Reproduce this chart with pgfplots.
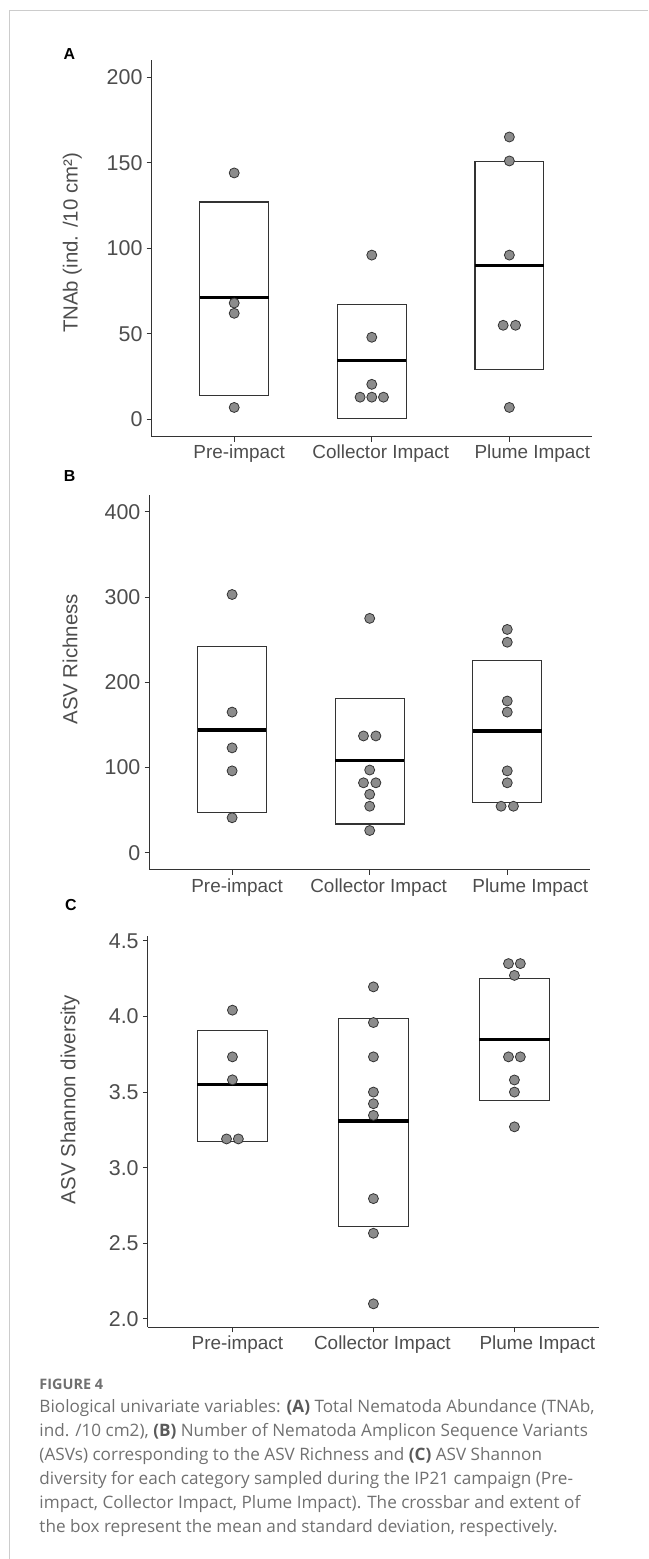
\documentclass[border=0pt]{standalone}
\usepackage{fontspec}
\usepackage{pgfplots}
\usepackage{pgfplotstable}
\pgfplotsset{compat=1.18}
\setmainfont{Liberation Sans}
\newfontfamily\capfont{Open Sans}
\definecolor{axisgray}{HTML}{333333}
\definecolor{textgray}{HTML}{4D4D4D}
\definecolor{dotfill}{HTML}{8C8C8C}
\definecolor{capgray}{HTML}{707070}
\definecolor{capbold}{HTML}{5A5A5A}
\definecolor{framegray}{HTML}{CCCCCC}

\pgfplotstableread{
x y
1 144
1 68
1 62
1 7
2 96
2 48
2 20.5
1.915 13
2 13
2.085 13
3 165
3 151
3 96
2.955 55
3.045 55
3 7
}\dotsA

\pgfplotstableread{
x y
1 303
1 165
1 123
1 96
1 41
2 275
1.955 137
2.045 137
2 97
1.955 82
2.045 82
2 68.5
2 54.5
2 26
3 262
3 247
3 178
3 165
3 96
3 82
2.955 54.5
3.045 54.5
}\dotsB

\pgfplotstableread{
x y
1 4.042
1 3.733
1 3.581
0.958 3.19
1.042 3.19
2 4.196
2 3.96
2 3.733
2 3.5
2 3.423
2 3.346
2 2.795
2 2.566
2 2.099
2.958 4.35
3.042 4.35
3 4.272
2.958 3.733
3.042 3.733
3 3.58
3 3.5
3 3.27
}\dotsC

\pgfplotsset{
  panel/.style={
    scale only axis, anchor=south west,
    xmin=0.4, xmax=3.6,
    axis x line*=bottom, axis y line*=left,
    axis line style={draw=axisgray, line width=1.1bp},
    tick align=outside, major tick length=5bp,
    tick style={draw=axisgray, line width=0.9bp},
    xtick={1,2,3},
    xticklabels={{\hspace*{10bp}Pre-impact},{\hspace*{18bp}Collector Impact},{\hspace*{46bp}Plume Impact}},
    xticklabel style={font=\fontsize{19}{19}\selectfont, text=textgray, anchor=north, inner sep=3.5bp},
    yticklabel style={font=\fontsize{21.5}{21.5}\selectfont, text=textgray, anchor=east, inner sep=4bp},
    /pgf/number format/assume math mode=true,
    clip=false,
  },
  dots/.style={only marks, mark=*, mark size=5bp,
    mark options={fill=dotfill, draw=axisgray, line width=0.8bp}},
  sdbox/.style={draw=axisgray, line width=1.1bp, fill=none, mark=none},
  meanbar/.style={draw=black, line width=3.2bp, mark=none},
}

\begin{document}
\begin{tikzpicture}
\path (0bp,0bp) rectangle (648bp,1559bp);
\draw[framegray, line width=1bp] (648bp,1548bp) -- (9.5bp,1548bp) -- (9.5bp,0bp);

% Panel A
\begin{axis}[panel, at={(151.7bp,1122.3bp)}, width=440.4bp, height=376.7bp,
  ymin=-10, ymax=210, ytick={0,50,100,150,200}]
\addplot[dots] table[x=x,y=y] {\dotsA};
\addplot[sdbox] coordinates {(0.75,13.8) (1.25,13.8) (1.25,127) (0.75,127)} -- cycle;
\addplot[sdbox] coordinates {(1.75,0.8) (2.25,0.8) (2.25,67.4) (1.75,67.4)} -- cycle;
\addplot[sdbox] coordinates {(2.75,29) (3.25,29) (3.25,150.5) (2.75,150.5)} -- cycle;
\addplot[meanbar] coordinates {(0.75,71.1) (1.25,71.1)};
\addplot[meanbar] coordinates {(1.75,34.5) (2.25,34.5)};
\addplot[meanbar] coordinates {(2.75,90) (3.25,90)};
\end{axis}

% Panel B
\begin{axis}[panel, at={(149.6bp,689bp)}, width=440.4bp, height=375bp,
  ymin=-20, ymax=420, ytick={0,100,200,300,400}]
\addplot[dots] table[x=x,y=y] {\dotsB};
\addplot[sdbox] coordinates {(0.75,46.9) (1.25,46.9) (1.25,241.6) (0.75,241.6)} -- cycle;
\addplot[sdbox] coordinates {(1.75,33.7) (2.25,33.7) (2.25,180.7) (1.75,180.7)} -- cycle;
\addplot[sdbox] coordinates {(2.75,58.7) (3.25,58.7) (3.25,225.7) (2.75,225.7)} -- cycle;
\addplot[meanbar] coordinates {(0.75,143.9) (1.25,143.9)};
\addplot[meanbar] coordinates {(1.75,108) (2.25,108)};
\addplot[meanbar] coordinates {(2.75,142.8) (3.25,142.8)};
\end{axis}

% Panel C
\begin{axis}[panel, at={(147.9bp,231.3bp)}, width=451.3bp, height=391bp,
  ymin=1.944, ymax=4.53, ytick={2,2.5,3,3.5,4,4.5},
  yticklabel style={/pgf/number format/.cd, fixed, fixed zerofill, precision=1}]
\addplot[dots] table[x=x,y=y] {\dotsC};
\addplot[sdbox] coordinates {(0.75,3.176) (1.25,3.176) (1.25,3.907) (0.75,3.907)} -- cycle;
\addplot[sdbox] coordinates {(1.75,2.612) (2.25,2.612) (2.25,3.984) (1.75,3.984)} -- cycle;
\addplot[sdbox] coordinates {(2.75,3.447) (3.25,3.447) (3.25,4.251) (2.75,4.251)} -- cycle;
\addplot[meanbar] coordinates {(0.75,3.548) (1.25,3.548)};
\addplot[meanbar] coordinates {(1.75,3.309) (2.25,3.309)};
\addplot[meanbar] coordinates {(2.75,3.848) (3.25,3.848)};
\end{axis}

% axis titles
\node[font=\fontsize{20.5}{20.5}\selectfont, text=textgray, rotate=90] at (72.3bp,1316bp) {TNAb (ind. /10 cm²)};
\node[font=\fontsize{20.5}{20.5}\selectfont, text=textgray, rotate=90] at (70.2bp,899.5bp) {ASV Richness};
\node[font=\fontsize{20.5}{20.5}\selectfont, text=textgray, rotate=90] at (70.2bp,459bp) {ASV Shannon diversity};

% panel letters
\node[font=\bfseries\fontsize{16}{16}\selectfont] at (69.5bp,1505bp) {A};
\node[font=\bfseries\fontsize{16}{16}\selectfont] at (69.6bp,1083bp) {B};
\node[font=\bfseries\fontsize{16}{16}\selectfont] at (71bp,653.2bp) {C};

% caption
\node[anchor=base west, inner sep=0pt, font=\capfont\bfseries\fontsize{14.5}{14.5}\selectfont, text=capgray] at (39.3bp,169bp) {FIGURE 4};
\begin{scope}[every node/.style={anchor=base west, inner sep=0pt, font=\capfont\fontsize{17.2}{17.2}\selectfont, text=capgray}]
\node at (39.3bp,146.3bp) {Biological univariate variables: {\bfseries\color{capbold}(A)} Total Nematoda Abundance (TNAb,};
\node at (39.3bp,122.3bp) {ind. /10 cm2), {\bfseries\color{capbold}(B)} Number of Nematoda Amplicon Sequence Variants};
\node at (39.3bp,98.3bp) {(ASVs) corresponding to the ASV Richness and {\bfseries\color{capbold}(C)} ASV Shannon};
\node at (39.3bp,74.3bp) {diversity for each category sampled during the IP21 campaign (Pre-};
\node at (39.3bp,50.3bp) {impact, Collector Impact, Plume Impact). The crossbar and extent of};
\node at (39.3bp,26.3bp) {the box represent the mean and standard deviation, respectively.};
\end{scope}
\end{tikzpicture}
\end{document}
